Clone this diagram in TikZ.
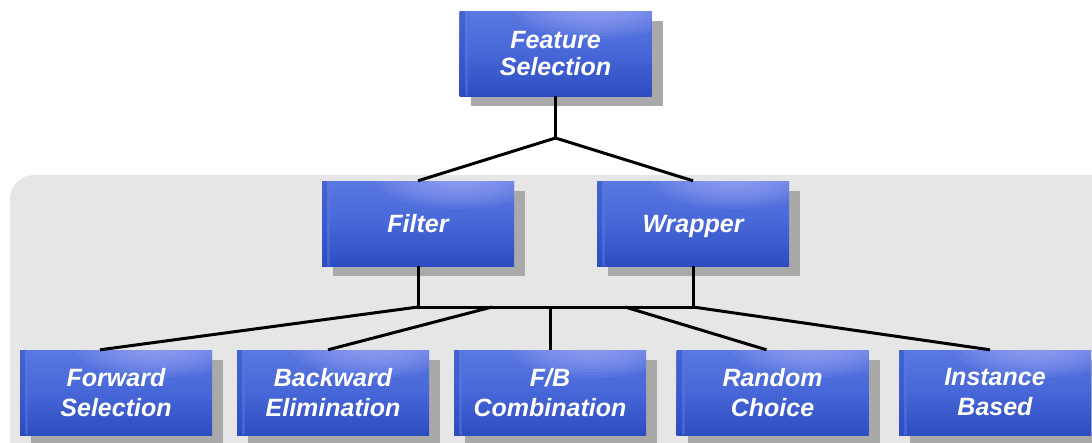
\documentclass[tikz,border=0pt]{standalone}
\usepackage{fontspec}
\setmainfont{Liberation Sans}
\usetikzlibrary{shadows}
\definecolor{bgray}{HTML}{E6E6E6}
\definecolor{shd}{HTML}{A9A9A9}
\definecolor{btop}{HTML}{5A78E0}
\definecolor{bmid}{HTML}{4767D8}
\definecolor{bbot}{HTML}{2C4CC0}
\definecolor{glow}{HTML}{B0B4FF}
\tikzset{
  box/.style={rectangle, minimum width=192pt, minimum height=85pt, inner sep=0pt,
    top color=btop, bottom color=bbot, middle color=bmid,
    text=white, font=\fontsize{25}{27}\selectfont\bfseries\itshape, align=center,
    drop shadow={shadow xshift=11pt, shadow yshift=-10pt, fill=shd, opacity=1},
    path picture={
      \foreach \k in {1,...,9}{
        \fill[glow, opacity=0.09] ([xshift=-55pt,yshift=2pt]path picture bounding box.north east) ellipse ({10pt+8*\k pt} and {3pt+3*\k pt});
      }
      \fill[bbot, opacity=0.45] (path picture bounding box.south west) rectangle ([xshift=5pt]path picture bounding box.north west);
      \fill[btop, opacity=0.5] ([xshift=5pt]path picture bounding box.south west) rectangle ([xshift=8pt]path picture bounding box.north west);
    }},
  midbox/.style={box, text depth=0pt},
  lowbox/.style={box, font=\fontsize{25}{30}\selectfont\bfseries\itshape},
  conn/.style={line width=3pt, black}
}
\begin{document}
\begin{tikzpicture}[x=1pt,y=-1pt]
\useasboundingbox (0,0) rectangle (1092,442);
\fill[bgray, rounded corners=24pt] (10,175) rectangle (1130,480);
\node[box] (fs) at (555.5,53.5) {Feature\\Selection};
\node[midbox] (filter) at (418,223.5) {Filter};
\node[midbox] (wrap) at (693,223.5) {Wrapper};
\node[lowbox] (fwd) at (116,392.5) {Forward\\Selection};
\node[lowbox] (bwd) at (333,392.5) {Backward\\Elimination};
\node[lowbox] (fb) at (550,392.5) {F/B\\Combination};
\node[lowbox] (rnd) at (772.5,392.5) {Random\\Choice};
\node[lowbox] (inst) at (995,392.5) {Instance\\Based};
\coordinate (j1) at (555.5,138);
\coordinate (jl) at (418,307);
\coordinate (jr) at (693,307);
\coordinate (jb) at (492,307);
\coordinate (jm) at (550,307);
\coordinate (jrn) at (625,307);
\draw[conn] (fs.south) -- (j1);
\draw[conn] (j1) -- (filter.north);
\draw[conn] (j1) -- (wrap.north);
\draw[conn] (filter.south) -- (jl) -- (jr) -- (wrap.south);
\draw[conn] (jl) -- ([xshift=-16pt]fwd.north);
\draw[conn] (jb) -- ([xshift=-5pt]bwd.north);
\draw[conn] (jm) -- (fb.north);
\draw[conn] (jrn) -- ([xshift=-6pt]rnd.north);
\draw[conn] (jr) -- ([xshift=-5pt]inst.north);
\end{tikzpicture}
\end{document}
